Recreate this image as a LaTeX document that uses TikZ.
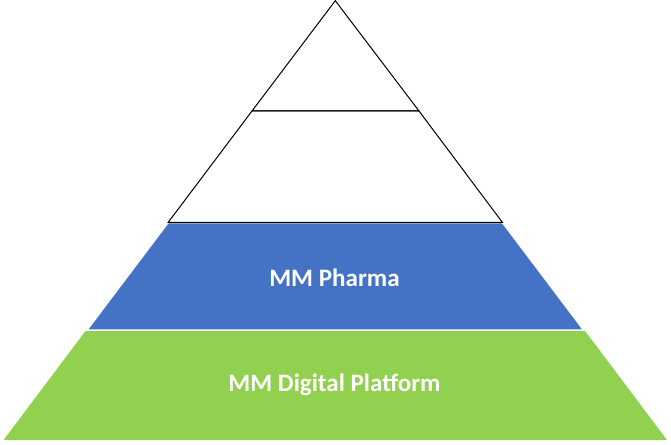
\documentclass[tikz,border=0pt]{standalone}
\usepackage{xcolor}
\usepackage{fontspec}
\setmainfont{Carlito}

\definecolor{pharmablue}{RGB}{68,114,196}
\definecolor{platformgreen}{RGB}{146,208,80}

\begin{document}
\begin{tikzpicture}[x=0.75pt,y=0.75pt,yscale=-1,xscale=1]
\useasboundingbox (0,0) rectangle (671,445); %set diagram to the size of the reference

%Shape: Triangle [id:apex]
\draw [line width=0.75]  (335.3,0.7) -- (419,111) -- (252,111) -- cycle ;
%Shape: Trapezoid [id:second]
\draw [line width=0.75]  (252,111) -- (419,111) -- (502.5,222.5) -- (168.1,222.5) -- cycle ;
%Shape: Trapezoid [id:pharma]
\fill [color=pharmablue]  (168.7,223.3) -- (501.9,223.3) -- (581.9,329.3) -- (88.7,329.3) -- cycle ;
%Shape: Trapezoid [id:platform]
\fill [color=platformgreen]  (85.5,331) -- (585.1,331) -- (667,440) -- (3.6,440) -- cycle ;

% Text Node
\draw (334.5,277.5) node (pharma)  [color=white,font=\fontsize{18.8}{22}\bfseries] {MM Pharma};
% Text Node
\draw (334.5,385) node (platform)  [color=white,font=\fontsize{18.8}{22}\bfseries] {MM Digital Platform};

\end{tikzpicture}
\end{document}
